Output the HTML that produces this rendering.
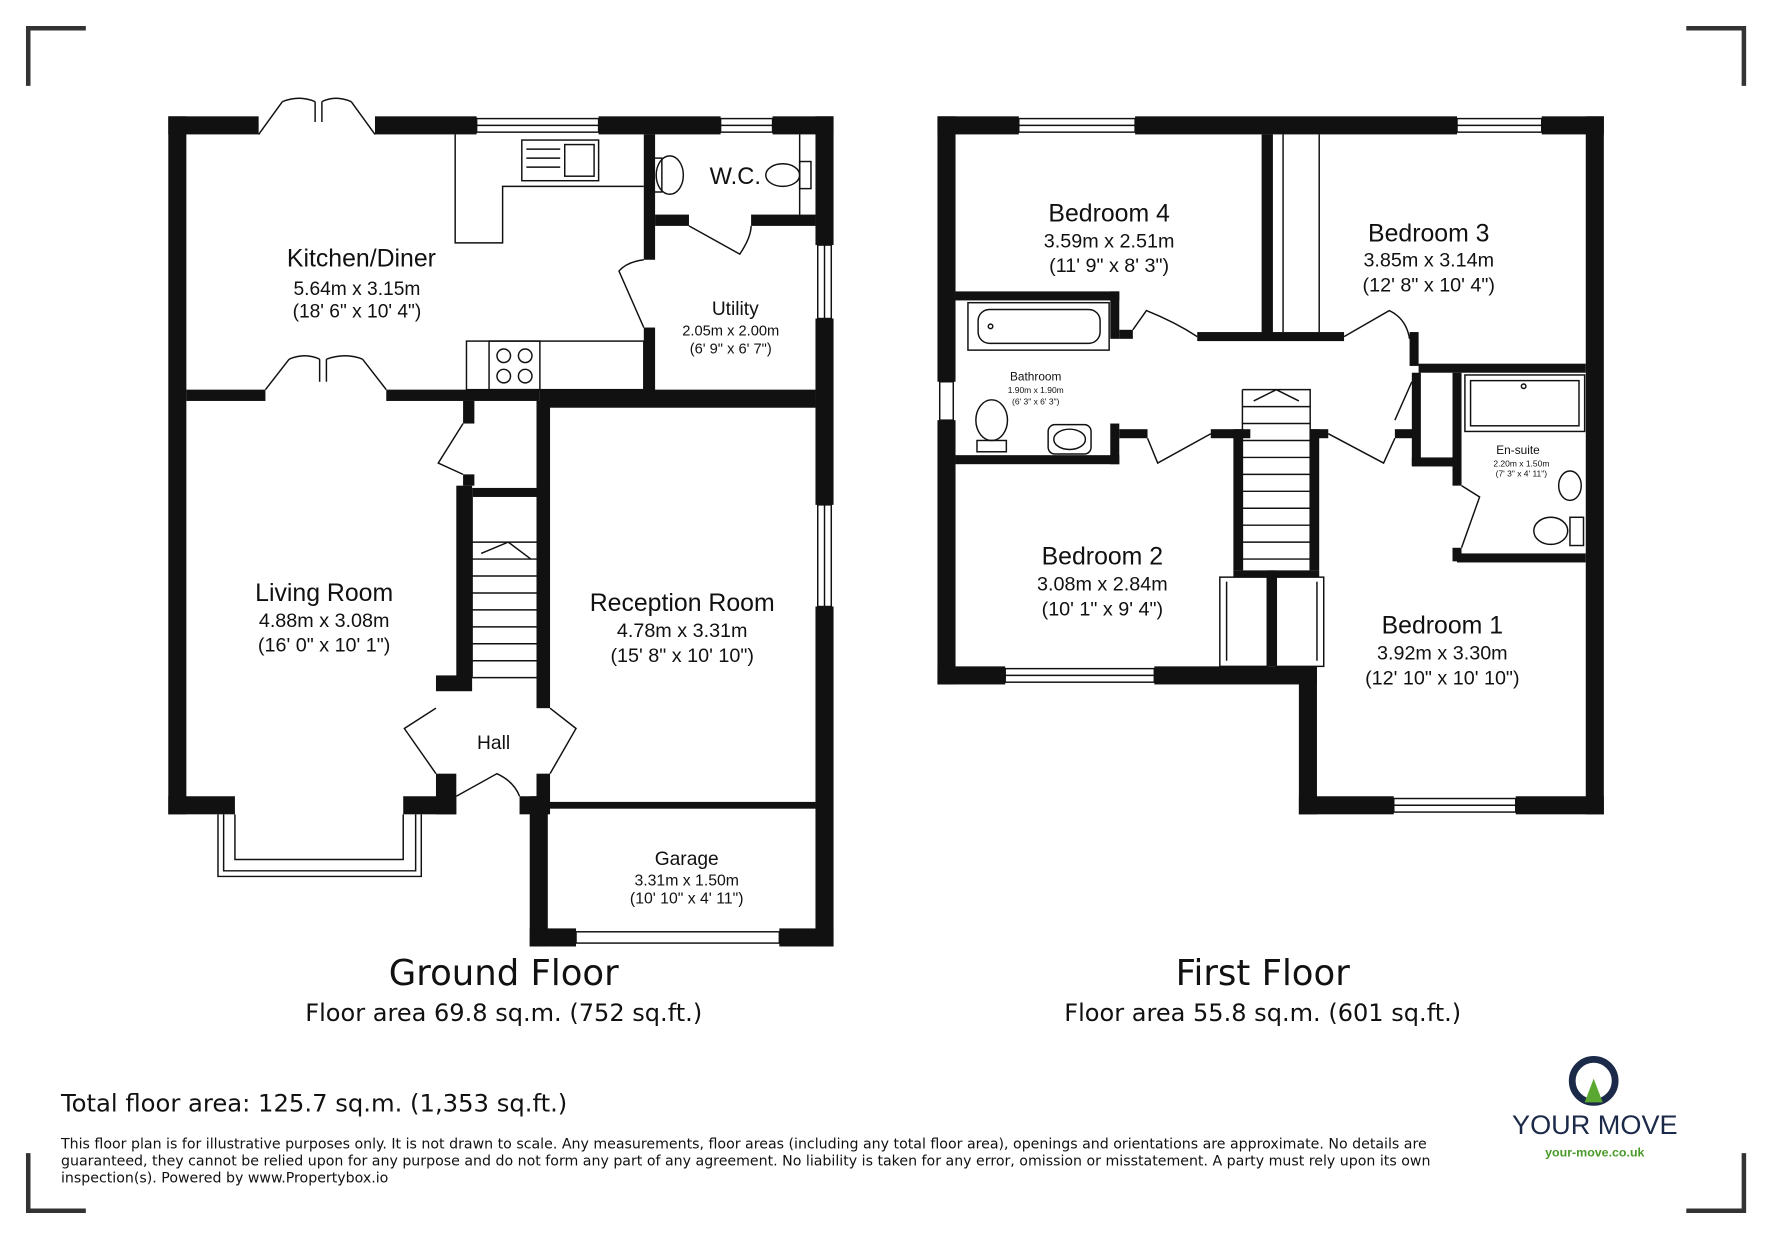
<!DOCTYPE html>
<html><head><meta charset="utf-8"><style>
html,body{margin:0;padding:0;background:#fff}
svg{display:block}
text{font-family:"Liberation Sans","DejaVu Sans",sans-serif;fill:#111}
.dv{font-family:"DejaVu Sans",sans-serif}
</style></head><body>
<svg width="1771" height="1239" viewBox="0 0 1568 1097" preserveAspectRatio="none" xmlns="http://www.w3.org/2000/svg">
<rect width="1568" height="1097" fill="#fff"/>
<g stroke="#333" stroke-width="4" fill="none">
<path d="M25 76V25H76"/><path d="M1493 25H1544V76"/><path d="M25 1021V1072H76"/><path d="M1493 1072H1544V1021"/>
</g>
<g fill="#111">
<rect x="149" y="103" width="80" height="16"/>
<rect x="332" y="103" width="90" height="16"/>
<rect x="530" y="103" width="108" height="16"/>
<rect x="684" y="103" width="54" height="16"/>
<rect x="149" y="103" width="16" height="618"/>
<rect x="149" y="705" width="59" height="16"/>
<rect x="357" y="705" width="47" height="16"/>
<rect x="722" y="103" width="16" height="114"/>
<rect x="722" y="282" width="16" height="165"/>
<rect x="722" y="537" width="16" height="301"/>
<rect x="165" y="345" width="70" height="10"/>
<rect x="342" y="345" width="136" height="10"/>
<rect x="478" y="345" width="244" height="16"/>
<rect x="570" y="119" width="10" height="111"/>
<rect x="570" y="290" width="10" height="60"/>
<rect x="580" y="190" width="30" height="10"/>
<rect x="665" y="190" width="57" height="10"/>
<rect x="410" y="355" width="10" height="20"/>
<rect x="410" y="420" width="10" height="10"/>
<rect x="404" y="430" width="14" height="170"/>
<rect x="386" y="598" width="32" height="14"/>
<rect x="418" y="432" width="57" height="8"/>
<rect x="475" y="355" width="12" height="272"/>
<rect x="475" y="685" width="12" height="36"/>
<rect x="386" y="685" width="18" height="36"/>
<rect x="460" y="705" width="25" height="16"/>
<rect x="485" y="710" width="237" height="6"/>
<rect x="469" y="705" width="16" height="133"/>
<rect x="469" y="822" width="41" height="16"/>
<rect x="690" y="822" width="48" height="16"/>
<rect x="830" y="103" width="72" height="16"/>
<rect x="1005" y="103" width="285" height="16"/>
<rect x="1365" y="103" width="55" height="16"/>
<rect x="830" y="103" width="16" height="235"/>
<rect x="830" y="372" width="16" height="234"/>
<rect x="1404" y="103" width="16" height="618"/>
<rect x="830" y="590" width="60" height="16"/>
<rect x="1022" y="590" width="144" height="16"/>
<rect x="1150" y="590" width="16" height="131"/>
<rect x="1150" y="705" width="84" height="16"/>
<rect x="1342" y="705" width="78" height="16"/>
<rect x="1117" y="119" width="10" height="180"/>
<rect x="846" y="258" width="145" height="8"/>
<rect x="983" y="258" width="8" height="42"/>
<rect x="991" y="292" width="12" height="8"/>
<rect x="1060" y="294" width="130" height="8"/>
<rect x="1248" y="294" width="8" height="30"/>
<rect x="1256" y="322" width="148" height="8"/>
<rect x="846" y="403" width="145" height="8"/>
<rect x="983" y="375" width="8" height="36"/>
<rect x="991" y="380" width="25" height="8"/>
<rect x="1072" y="380" width="35" height="8"/>
<rect x="1092" y="380" width="8" height="125"/>
<rect x="1160" y="380" width="16" height="8"/>
<rect x="1160" y="380" width="8" height="125"/>
<rect x="1092" y="505" width="76" height="6"/>
<rect x="1235" y="380" width="20" height="8"/>
<rect x="1250" y="330" width="8" height="82"/>
<rect x="1250" y="405" width="40" height="8"/>
<rect x="1286" y="330" width="8" height="100"/>
<rect x="1286" y="485" width="8" height="12"/>
<rect x="1290" y="490" width="114" height="8"/>
<rect x="1122" y="505" width="8" height="85"/>
</g>
<g stroke="#111" stroke-width="1.3" fill="none">
<rect x="422" y="105" width="108" height="12"/><line x1="422" y1="111" x2="530" y2="111"/>
<rect x="638" y="105" width="46" height="12"/><line x1="638" y1="111" x2="684" y2="111"/>
<rect x="724" y="217" width="12" height="65"/><line x1="730" y1="217" x2="730" y2="282"/>
<rect x="724" y="447" width="12" height="90"/><line x1="730" y1="447" x2="730" y2="537"/>
<rect x="510" y="825" width="180" height="10"/>
<path d="M193 721V776H373V721M208 721V761H357V721M198 721V771H368V721M212 761H284M288 761H354"/>
<rect x="902" y="105" width="103" height="12"/><line x1="902" y1="111" x2="1005" y2="111"/>
<rect x="1290" y="105" width="75" height="12"/><line x1="1290" y1="111" x2="1365" y2="111"/>
<rect x="832" y="338" width="12" height="34"/>
<rect x="890" y="592" width="132" height="12"/><line x1="890" y1="598" x2="1022" y2="598"/>
<rect x="1234" y="707" width="108" height="12"/><line x1="1234" y1="713" x2="1342" y2="713"/>
<path d="M229 119L250 90M332 119L311 90M279 90V108M285 90V108M250 90Q265 84 279 90M311 90Q297 84 285 90"/>
<path d="M235 345L256 318M342 345L321 318M283 318V338M289 318V338M256 318Q270 312 283 318M321 318Q306 312 289 318"/>
<path d="M570 290L548 240Q555 232 570 230"/>
<path d="M610 200L655 225Q665 210 665 200"/>
<path d="M410 375L388 410L410 420"/>
<path d="M386 627L358 645L386 685M487 627L510 645L487 685"/>
<path d="M404 705L440 685Q455 692 460 705"/>
<path d="M1003 292L1015 275Q1040 285 1060 298"/>
<path d="M1190 298L1230 275Q1245 282 1248 300"/>
<path d="M1250 338L1235 372"/>
<path d="M1016 388L1025 410L1072 384"/>
<path d="M1176 384L1225 410L1235 388"/>
<path d="M1294 430L1310 440L1294 485"/>
<path d="M403 119V215H445V165H570"/>
<rect x="462" y="124" width="68" height="36"/><rect x="500" y="128" width="26" height="28"/><path d="M466 132H496M466 140H496M466 148H496"/>
<rect x="413" y="302" width="157" height="43"/><rect x="433" y="302" width="45" height="43"/>
<circle cx="446" cy="315" r="6"/><circle cx="465" cy="315" r="6"/><circle cx="446" cy="333" r="6"/><circle cx="465" cy="333" r="6"/>
<ellipse cx="593" cy="155" rx="12" ry="17"/><rect x="578" y="140" width="8" height="30"/>
<ellipse cx="693" cy="155" rx="15" ry="10"/><rect x="708" y="143" width="10" height="24"/><line x1="708" y1="119" x2="708" y2="190"/>
<path d="M418 600H475M418 585H475M418 570H475M418 555H475M418 540H475M418 525H475M418 510H475M418 495H475M418 480H475M418 600V440M426 490L450 480L470 495"/>
<path d="M1100 345H1160V505M1100 345V505M1100 360H1160M1100 375H1160M1100 390H1160M1100 405H1160M1100 420H1160M1100 435H1160M1100 450H1160M1100 465H1160M1100 480H1160M1100 495H1160M1110 355L1130 345L1150 355"/>
<rect x="857" y="268" width="125" height="42"/><rect x="866" y="274" width="108" height="30" rx="10"/><circle cx="877" cy="289" r="2"/>
<ellipse cx="878" cy="372" rx="14" ry="18"/><rect x="865" y="390" width="26" height="10"/>
<rect x="928" y="376" width="38" height="26" rx="6"/><ellipse cx="947" cy="389" rx="14" ry="9"/>
<rect x="1297" y="332" width="106" height="50"/><rect x="1302" y="337" width="96" height="40"/><circle cx="1349" cy="342" r="2"/>
<ellipse cx="1390" cy="430" rx="10" ry="13"/>
<ellipse cx="1373" cy="470" rx="15" ry="12"/><rect x="1390" y="458" width="12" height="25"/>
<rect x="1080" y="511" width="42" height="79"/><rect x="1130" y="511" width="42" height="79"/><line x1="1086" y1="515" x2="1086" y2="585"/><line x1="1166" y1="515" x2="1166" y2="585"/>
<line x1="1136" y1="119" x2="1136" y2="294"/><line x1="1168" y1="119" x2="1168" y2="294"/>
</g>
<g text-anchor="middle">
<text x="320" y="236" font-size="22">Kitchen/Diner</text>
<text x="316" y="261" font-size="17">5.64m x 3.15m</text>
<text x="316" y="281" font-size="17">(18' 6" x 10' 4")</text>
<text x="651" y="163" font-size="21">W.C.</text>
<text x="651" y="279" font-size="17">Utility</text>
<text x="647" y="297" font-size="13">2.05m x 2.00m</text>
<text x="647" y="313" font-size="13">(6' 9" x 6' 7")</text>
<text x="287" y="532" font-size="22">Living Room</text>
<text x="287" y="555" font-size="17.5">4.88m x 3.08m</text>
<text x="287" y="577" font-size="17.5">(16' 0" x 10' 1")</text>
<text x="604" y="541" font-size="22">Reception Room</text>
<text x="604" y="564" font-size="17.5">4.78m x 3.31m</text>
<text x="604" y="586" font-size="17.5">(15' 8" x 10' 10")</text>
<text x="437" y="663" font-size="17">Hall</text>
<text x="608" y="766" font-size="17">Garage</text>
<text x="608" y="784" font-size="14">3.31m x 1.50m</text>
<text x="608" y="800" font-size="14">(10' 10" x 4' 11")</text>
<text x="982" y="196" font-size="22">Bedroom 4</text>
<text x="982" y="219" font-size="17.5">3.59m x 2.51m</text>
<text x="982" y="241" font-size="17.5">(11' 9" x 8' 3")</text>
<text x="1265" y="214" font-size="22">Bedroom 3</text>
<text x="1265" y="236" font-size="17.5">3.85m x 3.14m</text>
<text x="1265" y="258" font-size="17.5">(12' 8" x 10' 4")</text>
<text x="917" y="337" font-size="10.5">Bathroom</text>
<text x="917" y="348" font-size="7.5">1.90m x 1.90m</text>
<text x="917" y="358" font-size="7.5">(6' 3" x 6' 3")</text>
<text x="1344" y="402" font-size="10.5">En-suite</text>
<text x="1347" y="413" font-size="7.5">2.20m x 1.50m</text>
<text x="1347" y="422" font-size="7.5">(7' 3" x 4' 11")</text>
<text x="976" y="500" font-size="22">Bedroom 2</text>
<text x="976" y="523" font-size="17.5">3.08m x 2.84m</text>
<text x="976" y="545" font-size="17.5">(10' 1" x 9' 4")</text>
<text x="1277" y="561" font-size="22">Bedroom 1</text>
<text x="1277" y="584" font-size="17.5">3.92m x 3.30m</text>
<text x="1277" y="606" font-size="17.5">(12' 10" x 10' 10")</text>
<text x="446" y="872" font-size="31.4" class="dv">Ground Floor</text>
<text x="446" y="904" font-size="21.3" class="dv">Floor area 69.8 sq.m. (752 sq.ft.)</text>
<text x="1118" y="872" font-size="31.4" class="dv">First Floor</text>
<text x="1118" y="904" font-size="21.3" class="dv">Floor area 55.8 sq.m. (601 sq.ft.)</text>
</g>
<text x="54" y="984" font-size="21.5" class="dv">Total floor area: 125.7 sq.m. (1,353 sq.ft.)</text>
<g font-size="12.55" fill="#333" class="dv">
<text x="54" y="1017" class="dv">This floor plan is for illustrative purposes only. It is not drawn to scale. Any measurements, floor areas (including any total floor area), openings and orientations are approximate. No details are</text>
<text x="54" y="1032" class="dv">guaranteed, they cannot be relied upon for any purpose and do not form any part of any agreement. No liability is taken for any error, omission or misstatement. A party must rely upon its own</text>
<text x="54" y="1047" class="dv">inspection(s). Powered by www.Propertybox.io</text>
</g>
<circle cx="1411" cy="957" r="19" fill="none" stroke="#1c2a4a" stroke-width="6"/>
<path d="M1411 955L1403 976H1419Z" fill="#5aa832"/>
<text x="1412" y="1004" font-size="24" text-anchor="middle" style="fill:#1c2a4a">YOUR MOVE</text>
<text x="1412" y="1024" font-size="11" text-anchor="middle" style="fill:#4a9a2a;font-weight:bold">your-move.co.uk</text>
</svg>
</body></html>
